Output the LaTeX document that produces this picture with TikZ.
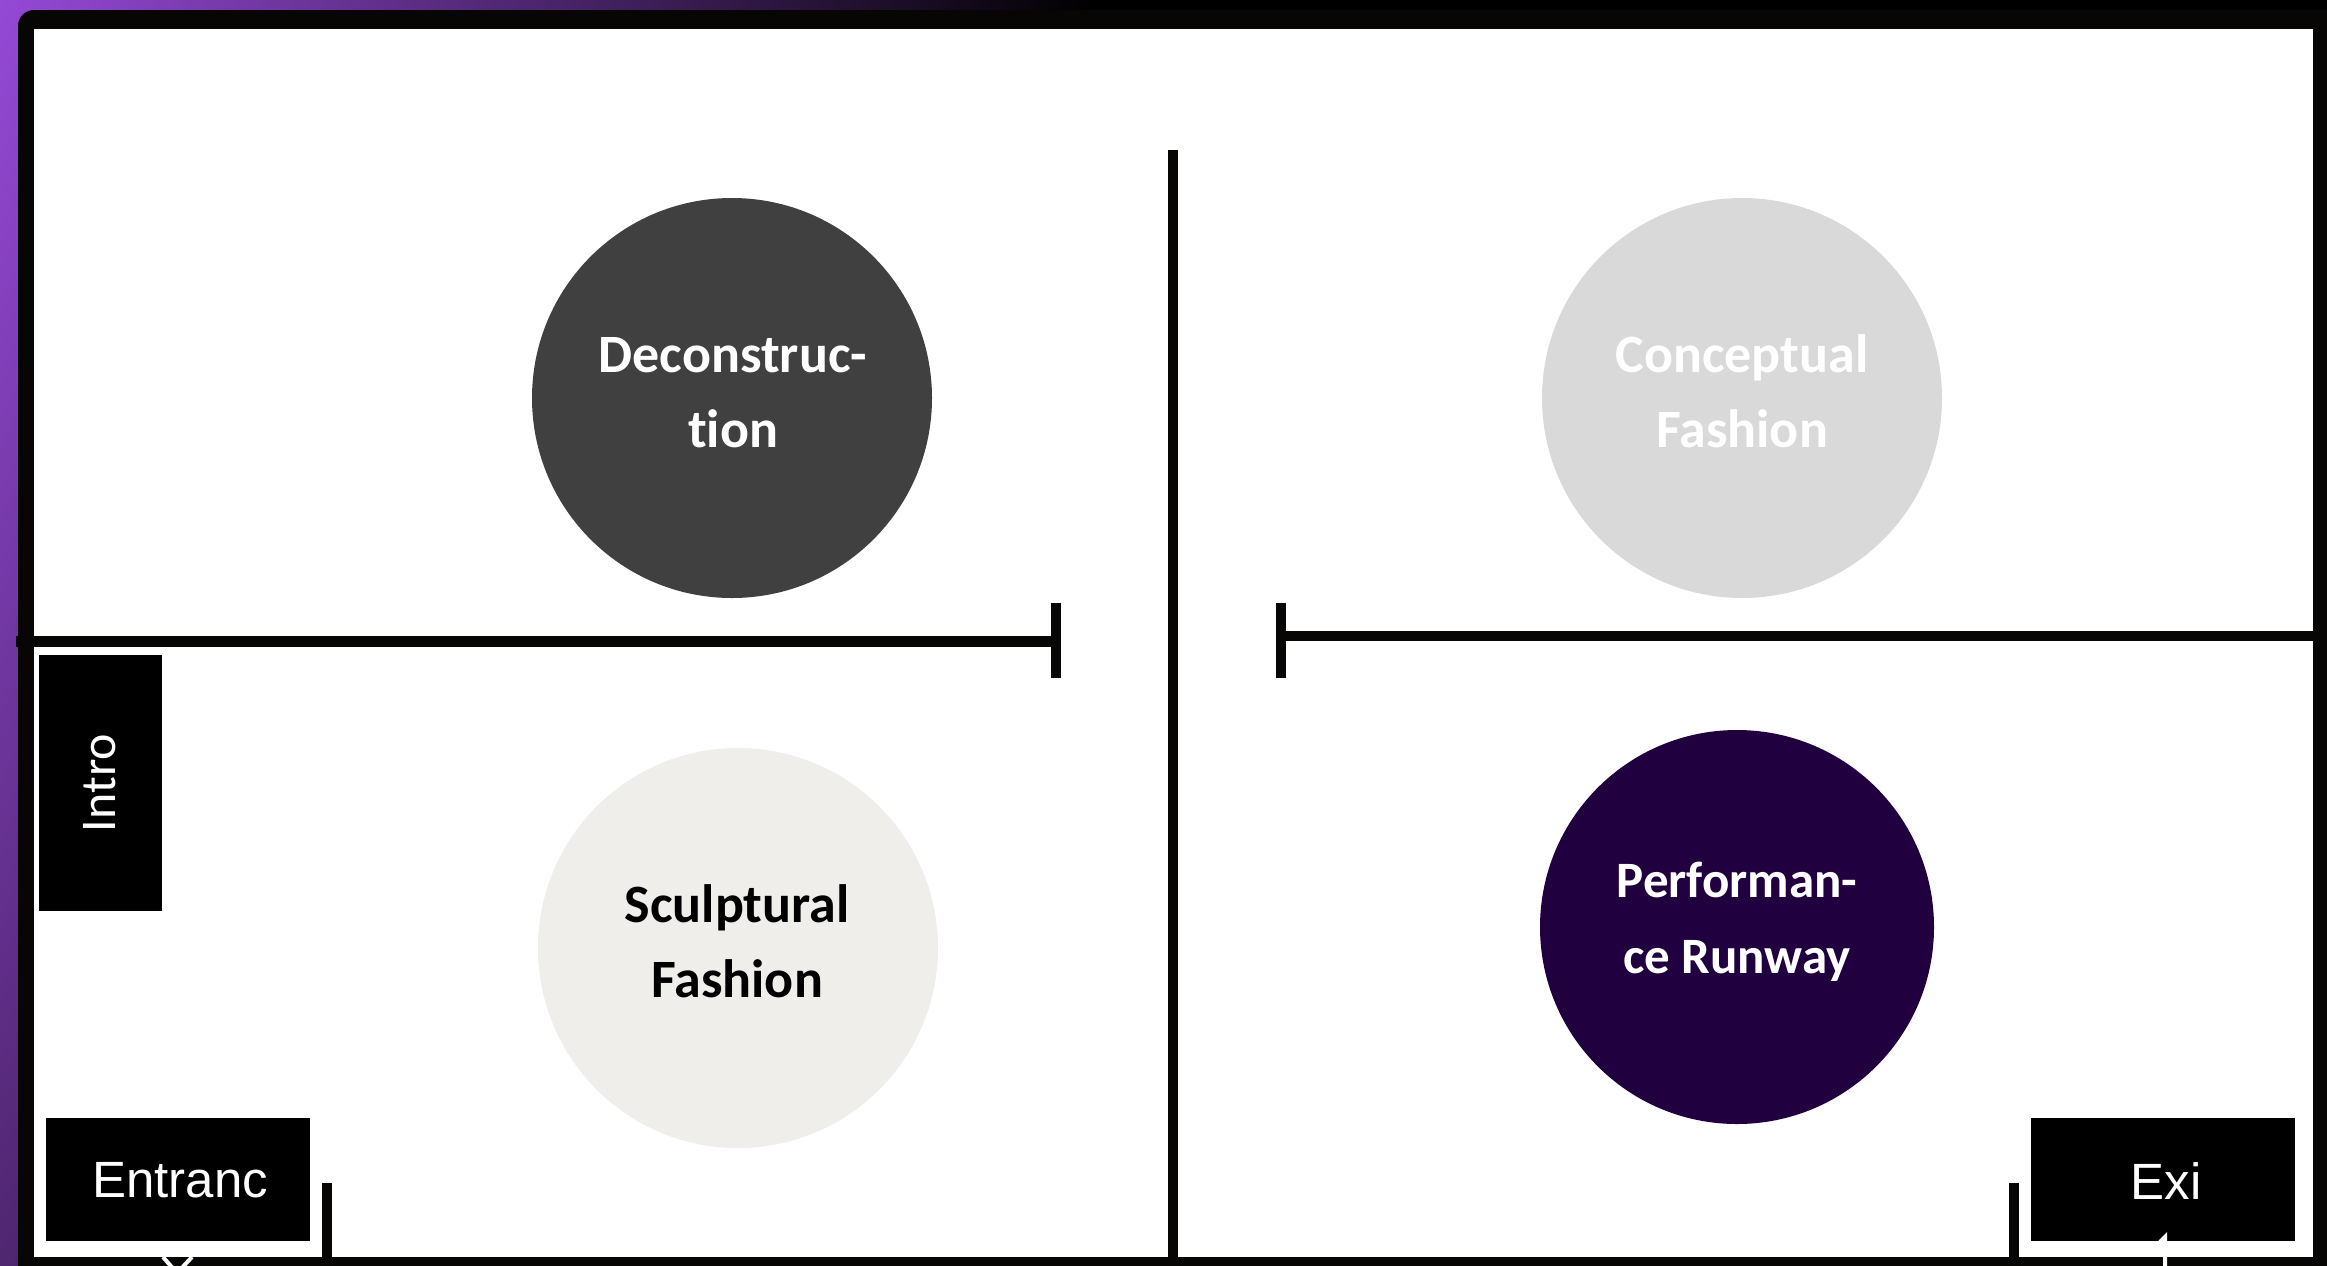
\documentclass[tikz,border=0pt]{standalone}
\usepackage{fontspec}
\usetikzlibrary{shadings}
\newfontfamily\calfont[Ligatures=NoCommon]{Carlito}
\newfontfamily\arialfont{Liberation Sans}
\definecolor{purp}{HTML}{9549D6}
\definecolor{dpurp}{HTML}{4F2670}
\definecolor{decol}{HTML}{404040}
\definecolor{concol}{HTML}{D9D9D9}
\definecolor{sculcol}{HTML}{F0EEEA}
\definecolor{perfcol}{HTML}{20003F}
\definecolor{wallcol}{HTML}{080604}
\tikzset{
  spot/.style={circle, inner sep=0pt, minimum size=200pt, draw=none},
  spottext/.style={font=\calfont\bfseries\fontsize{27}{32}\selectfont, anchor=base, inner sep=0pt},
  wall/.style={draw=wallcol, line width=5pt},
  roombox/.style={fill=black, inner sep=0pt},
  rtext/.style={font=\arialfont\fontsize{25.5}{30}\selectfont, text=white, anchor=base, inner sep=0pt},
  marker/.style={draw=white, line width=2pt}
}
\begin{document}
\begin{tikzpicture}[x=0.5pt,y=-0.5pt]
\useasboundingbox (0,0) rectangle (2327,1265);
\clip (0,0) rectangle (2327,1265);
% background
\fill[black] (0,0) rectangle (2327,1265);
\shade[upper left=purp, lower left=dpurp, upper right=black, lower right=black] (0,0) rectangle (1100,1265);
% frame
\fill[wallcol, rounded corners=8] (18,10) rectangle (2345,1285);
\fill[white] (34,29) rectangle (2313,1257);

% circles
\node[spot, fill=decol] (dec) at (732,398) {};
\node[spot, fill=concol] (con) at (1742,398) {};
\node[spot, fill=sculcol] (scu) at (738,948) {};
\node[spot, fill=perfcol, minimum size=197pt] (per) at (1737,927) {};

\node[spottext, text=white] (dec1) at (733,372) {Deconstruc-};
\node[spottext, text=white] (dec2) at (733,447) {tion};
\node[spottext, text=white] (con1) at (1742,372) {Conceptual};
\node[spottext, text=white] (con2) at (1742,447) {Fashion};
\node[spottext, text=black] (scu1) at (737,922) {Sculptural};
\node[spottext, text=black] (scu2) at (737,997) {Fashion};
\node[spottext, text=white, font=\calfont\bfseries\fontsize{25.5}{30}\selectfont] (per1) at (1737,897) {Performan-};
\node[spottext, text=white, font=\calfont\bfseries\fontsize{25.5}{30}\selectfont] (per2) at (1737,973) {ce Runway};

% walls
\coordinate (lwA) at (16,641);
\coordinate (lwB) at (1056,641);
\coordinate (ltA) at (1056,603);
\coordinate (ltB) at (1056,678);
\coordinate (rwA) at (1281,636);
\coordinate (rwB) at (2320,636);
\coordinate (rtA) at (1281,603);
\coordinate (rtB) at (1281,678);
\coordinate (mvA) at (1173,150);
\coordinate (mvB) at (1173,1260);
\coordinate (evA) at (327,1183);
\coordinate (evB) at (327,1260);
\coordinate (xvA) at (2014,1183);
\coordinate (xvB) at (2014,1260);
\draw[wall, line width=5.5pt] (lwA) -- (lwB);
\draw[wall] (ltA) -- (ltB);
\draw[wall] (rwA) -- (rwB);
\draw[wall] (rtA) -- (rtB);
\draw[wall] (mvA) -- (mvB);
\draw[wall] (evA) -- (evB);
\draw[wall] (xvA) -- (xvB);

% rooms
\node[roombox, minimum width=61.5pt, minimum height=128pt] (intro) at (100.5,783) {};
\node[font=\calfont\fontsize{25}{30}\selectfont, text=white, rotate=90, inner sep=0pt] (introt) at (100,783) {Intro};
\node[roombox, minimum width=132pt, minimum height=61.5pt] (ent) at (178,1179.5) {};
\node[rtext] (entt) at (180,1197) {Entranc};
\node[roombox, minimum width=132pt, minimum height=61.5pt] (exi) at (2163,1179.5) {};
\node[rtext] (exit) at (2166,1199) {Exi};

% white markers below entrance and exit
\coordinate (emA) at (163,1257);
\coordinate (emB) at (177,1273);
\coordinate (emC) at (192,1257);
\draw[marker] (emA) -- (emB) -- (emC);
\coordinate (xmA) at (2165,1270);
\coordinate (xmB) at (2165,1237);
\coordinate (xmC) at (2160,1242);
\draw[marker] (xmA) -- (xmB) -- (xmC);
\end{tikzpicture}
\end{document}
